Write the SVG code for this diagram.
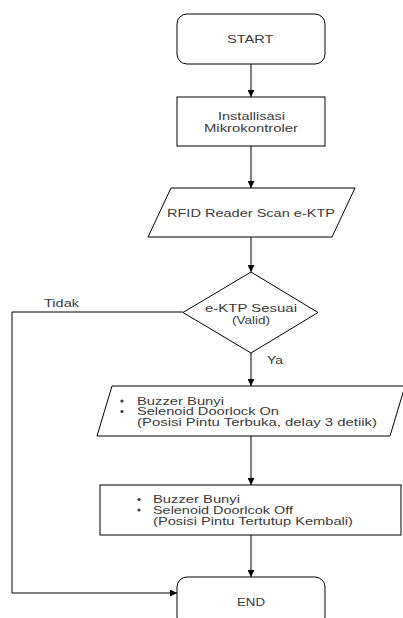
<svg xmlns="http://www.w3.org/2000/svg" width="403" height="618" viewBox="0 0 403 618">
<defs>
<marker id="arr" viewBox="0 0 10 10" refX="10" refY="5" markerWidth="7" markerHeight="7" markerUnits="userSpaceOnUse" orient="auto">
<path d="M0,0 L10,5 L0,10 Z" fill="#000"/>
</marker>
<style>
.shape{fill:#fff;stroke:#000;stroke-width:1}
.t{font-family:"Liberation Sans",Arial,sans-serif;font-size:11px;fill:#3a3a3a}
.ln{fill:none;stroke:#000;stroke-width:1;marker-end:url(#arr)}
</style>
</defs>
<rect width="403" height="618" fill="#fff"/>
<g id="connectors">
<line class="ln" x1="251" y1="64" x2="251" y2="97"/>
<line class="ln" x1="251" y1="146" x2="251" y2="188"/>
<line class="ln" x1="251" y1="237" x2="251" y2="272"/>
<line class="ln" x1="251" y1="353" x2="251" y2="386"/>
<line class="ln" x1="251" y1="436" x2="251" y2="485"/>
<line class="ln" x1="251" y1="535" x2="251" y2="577"/>
<polyline class="ln" points="183,312 12,312 12,593 177,593"/>
<text class="t" x="44" y="307" textLength="35" lengthAdjust="spacingAndGlyphs">Tidak</text>
<text class="t" x="267" y="364" textLength="16" lengthAdjust="spacingAndGlyphs">Ya</text>
</g>
<g id="start">
<rect class="shape" x="177" y="14" width="148" height="50" rx="10"/>
<text class="t" x="227" y="43" textLength="46.5" lengthAdjust="spacingAndGlyphs">START</text>
</g>
<g id="init">
<rect class="shape" x="177" y="97" width="148" height="49"/>
<text class="t" x="218" y="120" textLength="67" lengthAdjust="spacingAndGlyphs">Installisasi</text>
<text class="t" x="204" y="132" textLength="94" lengthAdjust="spacingAndGlyphs">Mikrokontroler</text>
</g>
<g id="rfid">
<polygon class="shape" points="171,188 355,188 332,237 148,237"/>
<text class="t" x="167" y="217" textLength="168" lengthAdjust="spacingAndGlyphs">RFID Reader Scan e-KTP</text>
</g>
<g id="decision">
<polygon class="shape" points="251,272 318,312.5 251,353 183,312.5"/>
<text class="t" x="205" y="312" textLength="92" lengthAdjust="spacingAndGlyphs">e-KTP Sesuai</text>
<text class="t" x="232" y="324" textLength="38" lengthAdjust="spacingAndGlyphs">(Valid)</text>
</g>
<g id="open">
<polygon class="shape" points="112,386 405,386 390,436 97,436"/>
<circle cx="122" cy="401" r="1.6" fill="#3a3a3a"/>
<circle cx="122" cy="411.5" r="1.6" fill="#3a3a3a"/>
<text class="t" x="137" y="404.5" textLength="87" lengthAdjust="spacingAndGlyphs">Buzzer Bunyi</text>
<text class="t" x="137" y="415" textLength="142" lengthAdjust="spacingAndGlyphs">Selenoid Doorlock On</text>
<text class="t" x="137" y="426" textLength="240" lengthAdjust="spacingAndGlyphs">(Posisi Pintu Terbuka, delay 3 detiik)</text>
</g>
<g id="close">
<rect class="shape" x="100" y="485" width="301" height="50"/>
<circle cx="139" cy="499.5" r="1.6" fill="#3a3a3a"/>
<circle cx="139" cy="510" r="1.6" fill="#3a3a3a"/>
<text class="t" x="153" y="503" textLength="87" lengthAdjust="spacingAndGlyphs">Buzzer Bunyi</text>
<text class="t" x="153" y="513.5" textLength="140" lengthAdjust="spacingAndGlyphs">Selenoid Doorlcok Off</text>
<text class="t" x="153" y="524.5" textLength="200" lengthAdjust="spacingAndGlyphs">(Posisi Pintu Tertutup Kembali)</text>
</g>
<g id="end">
<rect class="shape" x="177" y="577" width="148" height="50" rx="10"/>
<text class="t" x="237" y="606" textLength="28" lengthAdjust="spacingAndGlyphs">END</text>
</g>
</svg>
